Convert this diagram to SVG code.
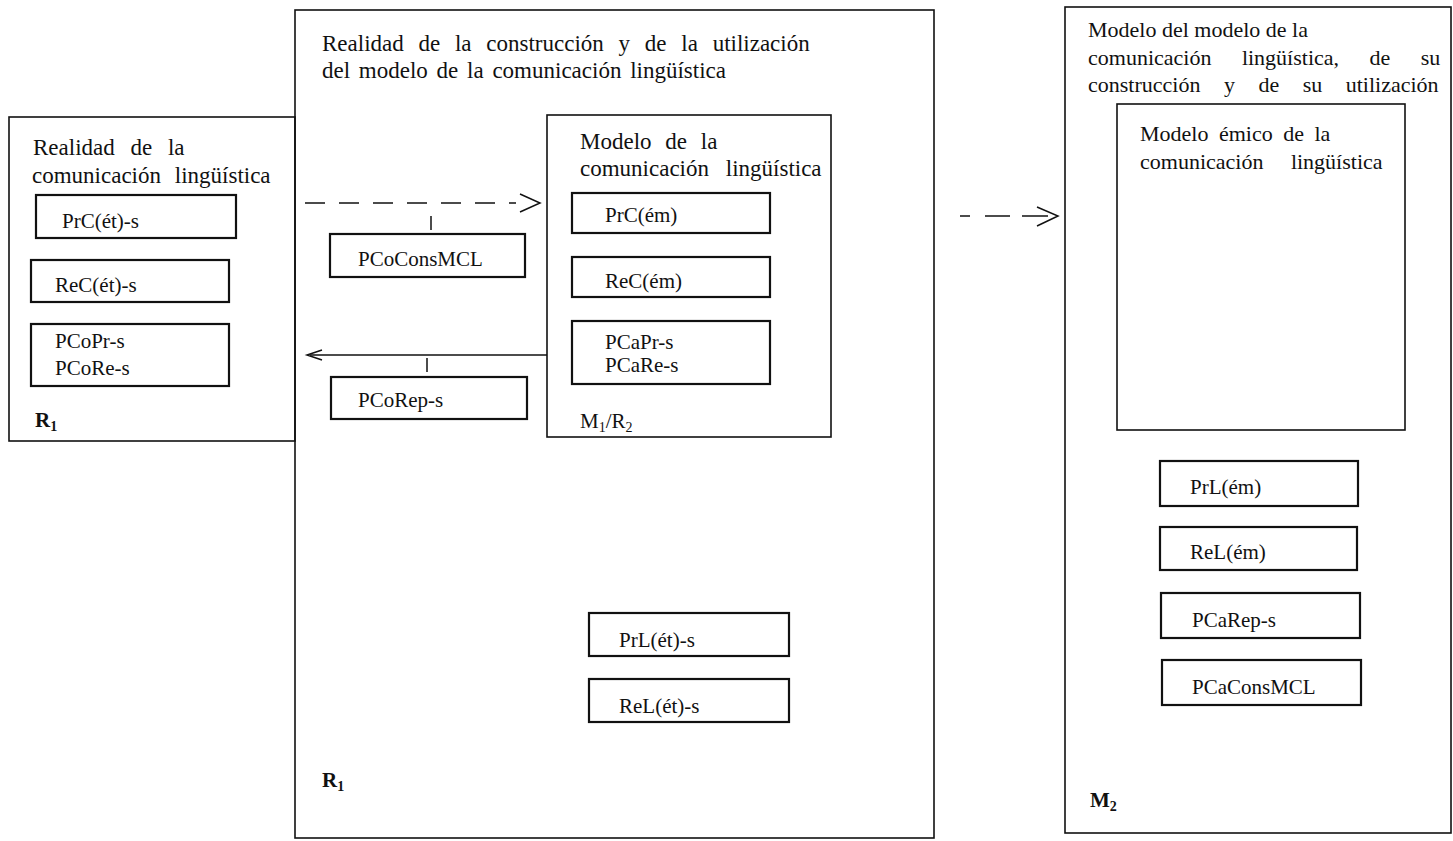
<svg xmlns="http://www.w3.org/2000/svg" width="1453" height="841" viewBox="0 0 1453 841">
<style>
text{font-family:"Liberation Serif","Times New Roman",serif;font-size:21px;fill:#111}
.h{font-size:23px}
.hr{font-size:22px}
.frame{fill:none;stroke:#111;stroke-width:1.6}
.box{fill:none;stroke:#111;stroke-width:2.2}
.conn{fill:none;stroke:#111;stroke-width:1.5}
.sub{font-size:14px}
.lbl{font-weight:bold}
</style>
<rect width="1453" height="841" fill="#fff"/>

<g id="left-reality">
<rect class="frame" x="9" y="117" width="286" height="324"/>
<text class="h" x="33" y="155" word-spacing="10">Realidad de la</text>
<text class="h" x="32" y="183" word-spacing="8">comunicación lingüística</text>
<g id="prc-et"><rect class="box" x="36" y="195" width="200" height="43"/><text x="62" y="228">PrC(ét)-s</text></g>
<g id="rec-et"><rect class="box" x="31" y="260" width="198" height="42"/><text x="55" y="292">ReC(ét)-s</text></g>
<g id="pcopr"><rect class="box" x="31" y="324" width="198" height="62"/><text x="55" y="348">PCoPr-s</text><text x="55" y="375">PCoRe-s</text></g>
<text class="lbl" x="35" y="427">R<tspan class="sub" dy="4">1</tspan></text>
</g>

<g id="middle-reality">
<rect class="frame" x="295" y="10" width="639" height="828"/>
<text class="h" x="322" y="51" word-spacing="9">Realidad de la construcción y de la utilización</text>
<text class="h" x="322" y="78" word-spacing="3">del modelo de la comunicación lingüística</text>
<g id="pcocons"><rect class="box" x="330" y="234" width="195" height="43"/><text x="358" y="266">PCoConsMCL</text></g>
<g id="pcorep"><rect class="box" x="331" y="377" width="196" height="42"/><text x="358" y="407">PCoRep-s</text></g>
<g id="prl-et"><rect class="box" x="589" y="613" width="200" height="43"/><text x="619" y="647">PrL(ét)-s</text></g>
<g id="rel-et"><rect class="box" x="589" y="679" width="200" height="43"/><text x="619" y="713">ReL(ét)-s</text></g>
<text class="lbl" x="322" y="787">R<tspan class="sub" dy="4">1</tspan></text>
</g>

<g id="model-m1">
<rect class="frame" x="547" y="115" width="284" height="322"/>
<text class="h" x="580" y="149" word-spacing="8">Modelo de la</text>
<text class="h" x="580" y="176" word-spacing="11">comunicación lingüística</text>
<g id="prc-em"><rect class="box" x="572" y="193" width="198" height="40"/><text x="605" y="222">PrC(ém)</text></g>
<g id="rec-em"><rect class="box" x="572" y="257" width="198" height="40"/><text x="605" y="288">ReC(ém)</text></g>
<g id="pcapr"><rect class="box" x="572" y="321" width="198" height="63"/><text x="605" y="349">PCaPr-s</text><text x="605" y="372">PCaRe-s</text></g>
<text x="580" y="428">M<tspan class="sub" dy="4">1</tspan><tspan dy="-4">/R</tspan><tspan class="sub" dy="4">2</tspan></text>
</g>

<g id="right-model">
<rect class="frame" x="1065" y="7" width="386" height="826"/>
<text class="hr" x="1088" y="37">Modelo del modelo de la</text>
<text class="hr" x="1088" y="65" word-spacing="25">comunicación lingüística, de su</text>
<text class="hr" x="1088" y="92" word-spacing="18">construcción y de su utilización</text>
<g id="emic-model">
<rect class="frame" x="1117" y="104" width="288" height="326"/>
<text class="hr" x="1140" y="141" word-spacing="5">Modelo émico de la</text>
<text class="hr" x="1140" y="169" word-spacing="22">comunicación lingüística</text>
</g>
<g id="prl-em"><rect class="box" x="1160" y="461" width="198" height="45"/><text x="1190" y="494">PrL(ém)</text></g>
<g id="rel-em"><rect class="box" x="1160" y="527" width="197" height="43"/><text x="1190" y="559">ReL(ém)</text></g>
<g id="pcarep"><rect class="box" x="1161" y="593" width="199" height="45"/><text x="1192" y="627">PCaRep-s</text></g>
<g id="pcacons"><rect class="box" x="1162" y="660" width="199" height="45"/><text x="1192" y="694">PCaConsMCL</text></g>
<text class="lbl" x="1090" y="807">M<tspan class="sub" dy="4">2</tspan></text>
</g>

<g id="connectors">
<line class="conn" x1="305" y1="203" x2="516" y2="203" stroke-dasharray="20 14"/>
<polyline class="conn" points="520,194 540,203 520,212"/>
<line class="conn" x1="431" y1="216" x2="431" y2="230" stroke-width="2"/>
<line class="conn" x1="547" y1="355" x2="310" y2="355"/>
<polyline class="conn" points="322,350 307,355 322,360"/>
<line class="conn" x1="427" y1="358" x2="427" y2="372" stroke-width="2"/>
<line class="conn" x1="960" y1="216" x2="970" y2="216"/>
<line class="conn" x1="985" y1="216" x2="1010" y2="216"/>
<line class="conn" x1="1022" y1="216" x2="1048" y2="216"/>
<polyline class="conn" points="1037,207 1058,216 1037,226"/>
</g>
</svg>
